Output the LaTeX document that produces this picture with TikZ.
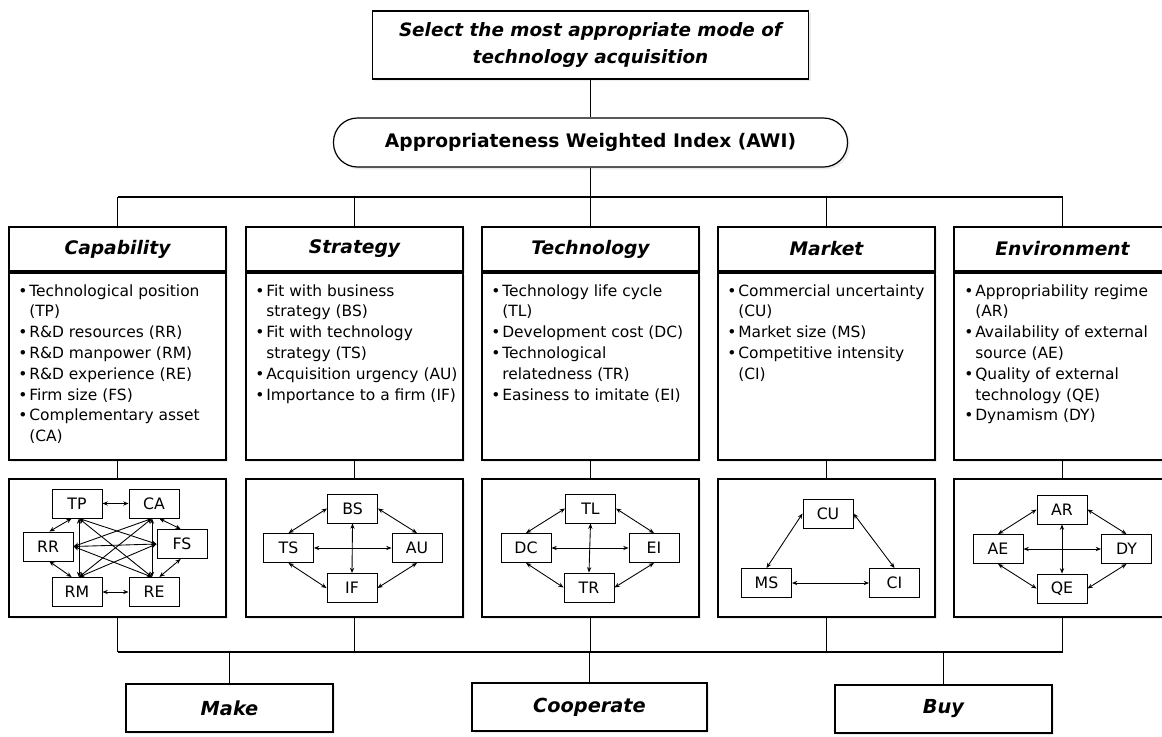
\documentclass[tikz,border=0pt]{standalone}
\usepackage{fontspec}
\setmainfont{DejaVu Sans}
\usetikzlibrary{arrows.meta,shadows}
\newcommand{\mybul}{\makebox[8.25pt][l]{\textbullet}}
\newcommand{\myind}{\hspace*{8.25pt}}
\tikzset{
  box/.style={draw, line width=0.9pt, fill=white, inner sep=0pt,
    drop shadow={shadow xshift=1.8pt, shadow yshift=-1.8pt, fill=black!15}},
  hdr/.style={box, minimum width=162.75pt, minimum height=33pt,
    font=\fontsize{14}{16}\selectfont\bfseries\itshape},
  bodybox/.style={box, minimum width=162.75pt, minimum height=140.25pt},
  netbox/.style={box, minimum width=162.75pt, minimum height=103.5pt},
  endbox/.style={box, minimum height=36pt,
    font=\fontsize{14.5}{17}\selectfont\bfseries\itshape},
  txt/.style={align=left, inner sep=0pt, anchor=north west,
    font=\fontsize{11.6}{15.6}\selectfont},
  nd/.style={draw, line width=0.7pt, fill=white, minimum width=37.5pt,
    minimum height=21.75pt, inner sep=0pt, font=\fontsize{11.8}{13}\selectfont},
  arr/.style={{Stealth[length=4pt,width=3.2pt]}-{Stealth[length=4pt,width=3.2pt]}, line width=0.65pt},
  conn/.style={line width=0.8pt}
}
\begin{document}
\begin{tikzpicture}[x=0.75pt,y=-0.75pt]
\useasboundingbox (0,0) rectangle (1162,736);
% top
\node[box, minimum width=327pt, minimum height=51pt, align=center,
  font=\fontsize{13.8}{20.5}\selectfont\bfseries\itshape] (top) at (590.5,45)
  {Select the most appropriate mode of\\technology acquisition};
\node[box, rounded corners=18pt, minimum width=385.5pt, minimum height=36.75pt,
  font=\fontsize{14}{17}\selectfont\bfseries] (awi) at (590.5,142.5)
  {Appropriateness Weighted Index (AWI)};
% headers
\node[hdr] (h1) at (117.5,249) {Capability};
\node[hdr] (h2) at (354.5,249) {Strategy};
\node[hdr] (h3) at (590.5,249) {Technology};
\node[hdr] (h4) at (826.5,249) {Market};
\node[hdr] (h5) at (1062.5,249) {Environment};
% bodies
\node[bodybox] (b1) at (117.5,366.5) {};
\node[bodybox] (b2) at (354.5,366.5) {};
\node[bodybox] (b3) at (590.5,366.5) {};
\node[bodybox] (b4) at (826.5,366.5) {};
\node[bodybox] (b5) at (1062.5,366.5) {};
\node[txt] (t1) at (18,284) {\mybul Technological position\\\myind(TP)\\\mybul R\&D resources (RR)\\\mybul R\&D manpower (RM)\\\mybul R\&D experience (RE)\\\mybul Firm size (FS)\\\mybul Complementary asset\\\myind(CA)};
\node[txt] (t2) at (255,284) {\mybul Fit with business\\\myind strategy (BS)\\\mybul Fit with technology\\\myind strategy (TS)\\\mybul Acquisition urgency (AU)\\\mybul Importance to a firm (IF)};
\node[txt] (t3) at (491,284) {\mybul Technology life cycle\\\myind(TL)\\\mybul Development cost (DC)\\\mybul Technological\\\myind relatedness (TR)\\\mybul Easiness to imitate (EI)};
\node[txt] (t4) at (727,284) {\mybul Commercial uncertainty\\\myind(CU)\\\mybul Market size (MS)\\\mybul Competitive intensity\\\myind(CI)};
\node[txt] (t5) at (964,284) {\mybul Appropriability regime\\\myind(AR)\\\mybul Availability of external\\\myind source (AE)\\\mybul Quality of external\\\myind technology (QE)\\\mybul Dynamism (DY)};
% network boxes
\node[netbox] (n1) at (117.5,548) {};
\node[netbox] (n2) at (354.5,548) {};
\node[netbox] (n3) at (590.5,548) {};
\node[netbox] (n4) at (826.5,548) {};
\node[netbox] (n5) at (1062.5,548) {};
% capability network
\node[nd] (TP) at (77,503.5) {TP};
\node[nd] (CA) at (154,503.5) {CA};
\node[nd] (RR) at (48,546.5) {RR};
\node[nd] (FS) at (182,544) {FS};
\node[nd] (RM) at (77,592) {RM};
\node[nd] (RE) at (154,592) {RE};
\draw[arr] (TP) -- (CA);
\draw[arr] (RM) -- (RE);
\draw[arr] ([xshift=-4pt]TP.south) -- ([xshift=1pt]RR.north);
\draw[arr] ([xshift=1pt]RR.south) -- ([xshift=-4pt]RM.north);
\draw[arr] ([xshift=4pt]CA.south) -- ([xshift=-1pt]FS.north);
\draw[arr] ([xshift=-1pt]FS.south) -- ([xshift=4pt]RE.north);
\draw[arr] ([xshift=1.5pt]TP.south) -- ([xshift=1.5pt]RM.north);
\draw[arr] ([xshift=-1.5pt]CA.south) -- ([xshift=-1.5pt]RE.north);
\draw[arr] (RR.east) -- (FS.west);
\draw[arr] ([xshift=1.5pt]TP.south) -- (FS.west);
\draw[arr] ([xshift=1.5pt]TP.south) -- ([xshift=-1.5pt]RE.north);
\draw[arr] ([xshift=-1.5pt]CA.south) -- (RR.east);
\draw[arr] ([xshift=-1.5pt]CA.south) -- ([xshift=1.5pt]RM.north);
\draw[arr] (RR.east) -- ([xshift=-1.5pt]RE.north);
\draw[arr] (FS.west) -- ([xshift=1.5pt]RM.north);
% strategy network
\node[nd] (BS) at (352.5,508.5) {BS};
\node[nd] (TS) at (288.5,548) {TS};
\node[nd] (AU) at (417,548) {AU};
\node[nd] (IF) at (352,588) {IF};
\draw[arr] (BS.west) -- (TS.north);
\draw[arr] (BS.east) -- (AU.north);
\draw[arr] (TS.south) -- (IF.west);
\draw[arr] (AU.south) -- (IF.east);
\draw[arr] (TS.east) -- (AU.west);
\draw[arr] (BS.south) -- (IF.north);
% technology network
\node[nd] (TL) at (590.5,508.5) {TL};
\node[nd] (DC) at (526,548) {DC};
\node[nd] (EI) at (654,548) {EI};
\node[nd] (TR) at (589,587.5) {TR};
\draw[arr] (TL.west) -- (DC.north);
\draw[arr] (TL.east) -- (EI.north);
\draw[arr] (DC.south) -- (TR.west);
\draw[arr] (EI.south) -- (TR.east);
\draw[arr] (DC.east) -- (EI.west);
\draw[arr] (TL.south) -- (TR.north);
% market network
\node[nd] (CU) at (828,513.5) {CU};
\node[nd] (MS) at (766.5,583) {MS};
\node[nd] (CI) at (894.5,583) {CI};
\draw[arr] (CU.west) -- (MS.north);
\draw[arr] (CU.east) -- (CI.north);
\draw[arr] (MS.east) -- (CI.west);
% environment network
\node[nd] (AR) at (1062,509.5) {AR};
\node[nd] (AE) at (998,549) {AE};
\node[nd] (DY) at (1126.5,549) {DY};
\node[nd] (QE) at (1062,588.5) {QE};
\draw[arr] (AR.west) -- (AE.north);
\draw[arr] (AR.east) -- (DY.north);
\draw[arr] (AE.south) -- (QE.west);
\draw[arr] (DY.south) -- (QE.east);
\draw[arr] (AE.east) -- (DY.west);
\draw[arr] (AR.south) -- (QE.north);
% bottom boxes
\node[endbox, minimum width=155.25pt] (make) at (229.5,708) {Make};
\node[endbox, minimum width=176.25pt] (coop) at (589.5,707) {Cooperate};
\node[endbox, minimum width=162.75pt] (buy) at (943.5,709) {Buy};
% connectors
\coordinate (busT) at (590.5,197);
\coordinate (busB) at (590.5,652);
\draw[conn] (top.south) -- (awi.north);
\draw[conn] (awi.south) -- (busT);
\draw[conn] (h1.north |- busT) -- (h5.north |- busT);
\foreach \i in {1,...,5} {
  \draw[conn] (h\i.north) -- (h\i.north |- busT);
  \draw[conn] (b\i.south) -- (n\i.north);
  \draw[conn] (n\i.south) -- (n\i.south |- busB);
}
\draw[conn] (n1.south |- busB) -- (n5.south |- busB);
\draw[conn] (make.north) -- (make.north |- busB);
\draw[conn] (coop.north) -- (coop.north |- busB);
\draw[conn] (buy.north) -- (buy.north |- busB);
\end{tikzpicture}
\end{document}
